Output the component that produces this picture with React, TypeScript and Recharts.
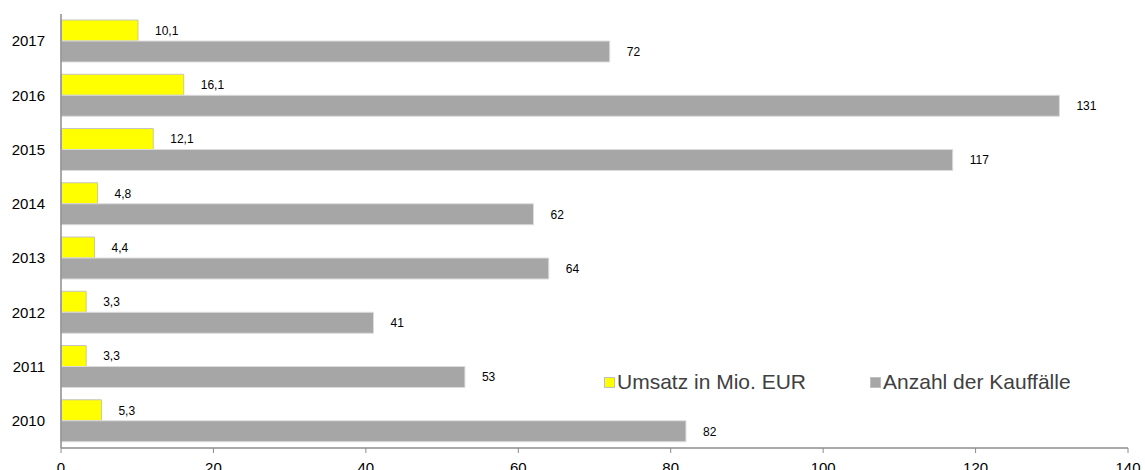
import { BarChart, Bar, XAxis, YAxis, LabelList, Legend } from 'recharts';

const years = ['2017', '2016', '2015', '2014', '2013', '2012', '2011', '2010'];
const umsatz = [10.1, 16.1, 12.1, 4.8, 4.4, 3.3, 3.3, 5.3];
const anzahl = [72, 131, 117, 62, 64, 41, 53, 82];
const xTicks = [0, 20, 40, 60, 80, 100, 120, 140];
const bandEdges = [0, 1, 2, 3, 4, 5, 6, 7, 8];
const legendOrder = ['umsatz', 'anzahl'];

const data = years.map((year, i) => ({ year, umsatz: umsatz[i], anzahl: anzahl[i] }));

const fmt = (v: any) => String(v).replace('.', ',');

const axisGray = '#8c8c8c';

const LegendContent = ({ payload }: any) => {
    const items = [...(payload || [])].sort(
        (a: any, b: any) => legendOrder.indexOf(a.dataKey) - legendOrder.indexOf(b.dataKey)
    );
    return (
        <div style={{ display: 'flex', alignItems: 'center', fontFamily: 'Liberation Sans, Arial, sans-serif' }}>
            {items.map((entry: any, i: number) => (
                <div key={`leg-${i}`} style={{ display: 'flex', alignItems: 'center', marginRight: i === 0 ? 64 : 0 }}>
                    <span
                        style={{
                            display: 'inline-block',
                            width: 9,
                            height: 9,
                            background: entry.color,
                            border: '1px solid #bfbfbf',
                            marginRight: 2,
                        }}
                    />
                    <span style={{ fontSize: 21, color: '#404040', lineHeight: '24px' }}>{entry.value}</span>
                </div>
            ))}
        </div>
    );
};

const App = () => {
    return (
        <div style={{ position: 'absolute', left: 0, top: 0, width: 1145, height: 470, background: '#fff' }}>
            <BarChart
                width={1145}
                height={470}
                data={data}
                layout="vertical"
                margin={{ top: 14, right: 17, bottom: 0, left: 0 }}
                barGap={0}
                style={{ fontFamily: 'Liberation Sans, Arial, sans-serif' }}
            >
                <XAxis
                    type="number"
                    domain={[0, 140]}
                    ticks={xTicks}
                    height={22}
                    tickSize={5}
                    tickMargin={9}
                    axisLine={{ stroke: axisGray, strokeWidth: 1.5 }}
                    tickLine={{ stroke: axisGray }}
                    tick={{ fill: '#000', fontSize: 15 }}
                />
                <YAxis
                    yAxisId="edges"
                    type="number"
                    domain={[0, 8]}
                    ticks={bandEdges}
                    width={0}
                    tickSize={6}
                    axisLine={false}
                    tickLine={{ stroke: axisGray, strokeWidth: 1.5 }}
                    tickFormatter={() => ''}
                />
                <YAxis
                    yAxisId="cat"
                    type="category"
                    dataKey="year"
                    width={61}
                    tickSize={6}
                    tickMargin={10}
                    tickLine={false}
                    axisLine={{ stroke: axisGray, strokeWidth: 1.5 }}
                    tick={{ fill: '#000', fontSize: 15 }}
                />
                <Legend
                    layout="horizontal"
                    verticalAlign="middle"
                    align="center"
                    content={<LegendContent />}
                    wrapperStyle={{ position: 'absolute', left: 604, top: 370, width: 'auto' }}
                />
                <Bar
                    yAxisId="cat"
                    dataKey="umsatz"
                    name="Umsatz in Mio. EUR"
                    fill="#ffff00"
                    stroke="#c4c4c4"
                    strokeWidth={1}
                    barSize={21}
                    isAnimationActive={false}
                >
                    <LabelList dataKey="umsatz" position="right" offset={17} formatter={fmt} fill="#000" fontSize={12} />
                </Bar>
                <Bar
                    yAxisId="cat"
                    dataKey="anzahl"
                    name="Anzahl der Kauffälle"
                    fill="#a6a6a6"
                    stroke="#dcdcdc"
                    strokeWidth={1}
                    barSize={21}
                    isAnimationActive={false}
                >
                    <LabelList dataKey="anzahl" position="right" offset={17} formatter={fmt} fill="#000" fontSize={12} />
                </Bar>
            </BarChart>
        </div>
    );
};

export default App;
